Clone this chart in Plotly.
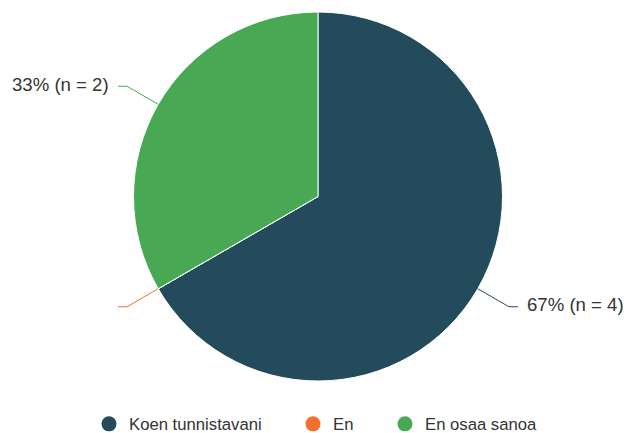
import math
import plotly.graph_objects as go

# ---- data ----
categories = ["Koen tunnistavani", "En", "En osaa sanoa"]
counts = [4, 0, 2]
colors = ["#234b5b", "#f26f2c", "#48a853"]
legend_x_px = [89, 293, 385]  # legend entry left positions (px)

W, H = 628, 433
ml, mr, mt, mb = 8, 0, 12, 52
pw, ph = W - ml - mr, H - mt - mb
cx, cy, r = ml + pw / 2, mt + ph / 2, min(pw, ph) / 2


def to_paper(px, py):
    return (px - ml) / pw, (H - mb - py) / ph


fig = go.Figure()
fig.add_trace(go.Pie(
    labels=categories, values=counts, sort=False, direction="clockwise",
    rotation=0, textinfo="none", showlegend=False,
    marker=dict(colors=colors, line=dict(color="white", width=1)),
    domain=dict(x=[0, 1], y=[0, 1]),
))

total = sum(counts)
cum = 0
shapes, annotations = [], []
for cat, v, col in zip(categories, counts, colors):
    mid = (cum + v / 2) / total * 2 * math.pi
    cum += v
    ux, uy = math.sin(mid), -math.cos(mid)
    side = 1 if ux >= 0 else -1
    ex, ey = cx + r * ux, cy + r * uy
    bx, by = cx + (r + 36) * ux, cy + (r + 36) * uy
    tx = bx + side * 9
    p1, p2, p3 = to_paper(ex, ey), to_paper(bx, by), to_paper(tx, by)
    shapes.append(dict(
        type="path", xref="paper", yref="paper",
        path=f"M {p1[0]},{p1[1]} L {p2[0]},{p2[1]} L {p3[0]},{p3[1]}",
        line=dict(color=col, width=1)))
    if v > 0:
        ax, ay = to_paper(tx + side * 7, by - 2)
        annotations.append(dict(
            x=ax, y=ay, xref="paper", yref="paper", showarrow=False,
            text=f"{round(100 * v / total)}% (n = {v})",
            xanchor="left" if side > 0 else "right", yanchor="middle",
            font=dict(size=18.6, color="#333333")))

legend_names = ["legend", "legend2", "legend3"]
for cat, col, lg in zip(categories, colors, legend_names):
    fig.add_trace(go.Scatter(
        x=[None], y=[None], mode="markers", name=cat, legend=lg,
        marker=dict(color=col, size=15, symbol="circle")))

layout_legends = {}
for lg, lx in zip(legend_names, legend_x_px):
    layout_legends[lg] = dict(
        x=lx / W, xref="container", xanchor="left",
        y=1 - 424 / H, yref="container", yanchor="middle",
        orientation="h", bgcolor="rgba(0,0,0,0)",
        font=dict(size=16.7, color="#333333", family="Liberation Sans, Arial, sans-serif"))

fig.update_layout(
    width=W, height=H, margin=dict(l=ml, r=mr, t=mt, b=mb),
    paper_bgcolor="white", plot_bgcolor="white",
    font=dict(family="Liberation Sans, Arial, sans-serif", color="#333333"),
    shapes=shapes, annotations=annotations,
    xaxis=dict(visible=False), yaxis=dict(visible=False),
    **layout_legends,
)
fig.write_html("out.html", config={"displayModeBar": False},
               post_script="document.body.style.margin='0';")
